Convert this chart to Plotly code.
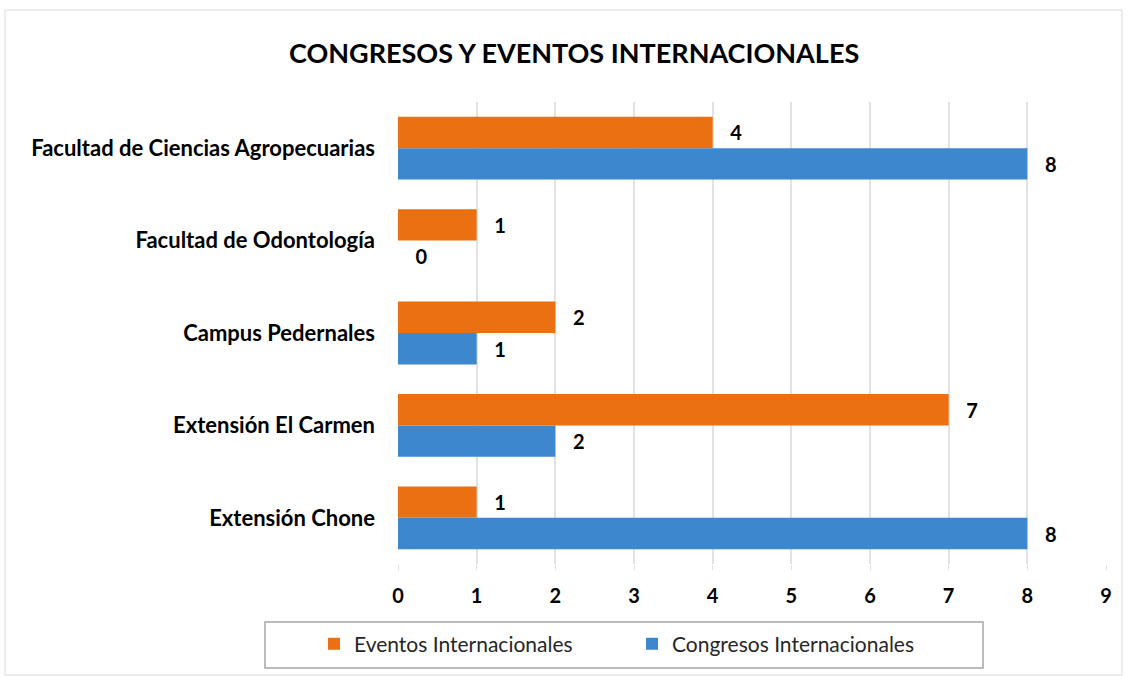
import plotly.graph_objects as go

categories = ["Facultad de Ciencias Agropecuarias", "Facultad de Odontología",
              "Campus Pedernales", "Extensión El Carmen", "Extensión Chone"]
eventos = [4, 1, 2, 7, 1]
congresos = [8, 0, 1, 2, 8]
x_ticks = [0, 1, 2, 3, 4, 5, 6, 7, 8, 9]

FONT = "Lato"
PAD = "\u00a0\u00a0\u00a0"
fig = go.Figure()
fig.add_trace(go.Bar(
    y=categories, x=congresos, orientation="h", name="Congresos Internacionales",
    marker=dict(color="#3D87CE", line=dict(width=0)),
    texttemplate=PAD + "%{x}", textposition="outside", cliponaxis=False,
    textfont=dict(family=FONT, size=20, color="#000000", weight="bold"),
))
fig.add_trace(go.Bar(
    y=categories, x=eventos, orientation="h", name="Eventos Internacionales",
    marker=dict(color="#EA7012", line=dict(width=0)),
    texttemplate=PAD + "%{x}", textposition="outside", cliponaxis=False,
    textfont=dict(family=FONT, size=20, color="#000000", weight="bold"),
))

W, H = 1130, 676
L, R, T, B = 398, 24, 102, 112
pw, ph = W - L - R, H - T - B
def px2x(p):
    return (p - L) / pw
def py2y(p):
    return (H - B - p) / ph

fig.update_layout(
    width=W, height=H,
    margin=dict(l=L, r=R, t=T, b=B),
    paper_bgcolor="white", plot_bgcolor="white",
    barmode="group", bargap=0.32, bargroupgap=0,
    font=dict(family=FONT, color="#000000"),
    showlegend=True,
    legend=dict(orientation="h", traceorder="reversed",
                x=px2x(632), xanchor="center", y=py2y(644), yanchor="middle",
                font=dict(family=FONT, size=21, color="#262626"),
                entrywidth=273, bgcolor="rgba(0,0,0,0)"),
    xaxis=dict(range=[0, 9], tickvals=x_ticks, showgrid=True,
               gridcolor="#E0E2E6", gridwidth=1.5, zeroline=False,
               showline=False, ticks="outside", ticklen=5, tickcolor="#E0E2E6",
               tickfont=dict(family=FONT, size=20, color="#000000", weight="bold"),
               ticklabelstandoff=9, fixedrange=True),
    yaxis=dict(categoryorder="array", categoryarray=categories[::-1],
               showgrid=False, showline=False, ticks="",
               tickfont=dict(family=FONT, size=22, color="#000000", weight="bold"),
               ticklabelstandoff=22, fixedrange=True),
    annotations=[dict(text="<b>CONGRESOS Y EVENTOS INTERNACIONALES</b>",
                      xref="paper", yref="paper", x=px2x(574), y=py2y(52),
                      xanchor="center", yanchor="middle", showarrow=False,
                      font=dict(family=FONT, size=27, color="#000000"))],
    shapes=[
        dict(type="rect", xref="paper", yref="paper",
             x0=px2x(5), x1=px2x(1122), y0=py2y(675), y1=py2y(10),
             line=dict(color="#D9D9D9", width=1), layer="below"),
        dict(type="rect", xref="paper", yref="paper",
             x0=px2x(265), x1=px2x(983), y0=py2y(668), y1=py2y(622),
             line=dict(color="#A6A6A6", width=1.5), layer="below"),
    ],
)

fig.write_html("out.html", config={"displayModeBar": False},
               post_script="document.body.style.margin='0';")
